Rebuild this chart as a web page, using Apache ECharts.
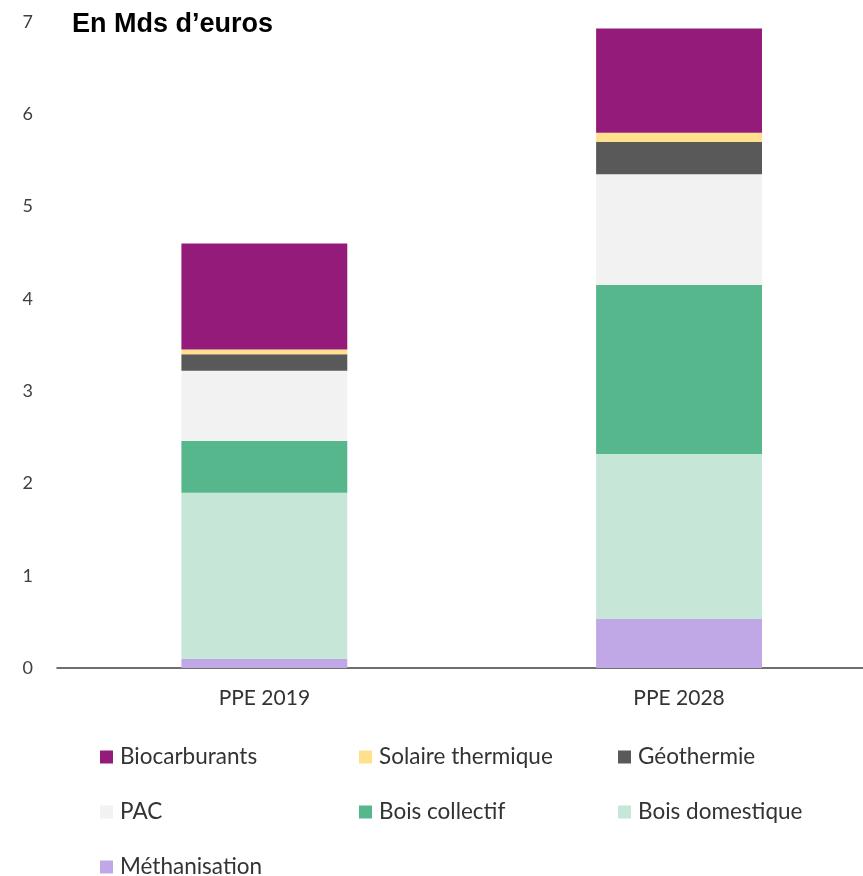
<!DOCTYPE html>
<html>
<head>
<meta charset="utf-8">
<script src="https://cdn.jsdelivr.net/npm/echarts@6/dist/echarts.min.js"></script>
<style>
html,body{margin:0;padding:0;background:#fff;overflow:hidden;width:863px;height:876px;}
#chart{width:887px;height:876px;}
</style>
</head>
<body>
<div id="chart"></div>
<script>
const categories = ['PPE 2019', 'PPE 2028'];
const methanisation = [0.10, 0.53];
const boisDomestique = [1.80, 1.79];
const boisCollectif = [0.56, 1.83];
const pac = [0.76, 1.20];
const geothermie = [0.18, 0.35];
const solaireThermique = [0.05, 0.10];
const biocarburants = [1.15, 1.13];
const yTicks = [0, 1, 2, 3, 4, 5, 6, 7];

const seriesDefs = [
  ['Méthanisation', methanisation, '#C0A7E6'],
  ['Bois domestique', boisDomestique, '#C6E6D8'],
  ['Bois collectif', boisCollectif, '#56B68C'],
  ['PAC', pac, '#F2F2F2'],
  ['Géothermie', geothermie, '#595959'],
  ['Solaire thermique', solaireThermique, '#FFE08C'],
  ['Biocarburants', biocarburants, '#951B7B']
];

const legendLayout = [
  ['Biocarburants', 100, 756.5],
  ['Solaire thermique', 359, 756.5],
  ['Géothermie', 618, 756.5],
  ['PAC', 100, 811.5],
  ['Bois collectif', 359, 811.5],
  ['Bois domestique', 618, 811.5],
  ['Méthanisation', 100, 866.5]
];

const font = 'Lato, "Noto Sans", sans-serif';

const chart = echarts.init(document.getElementById('chart'), null, {renderer: 'canvas'});
chart.setOption({
  animation: false,
  backgroundColor: '#fff',
  title: {
    text: 'En Mds d’euros',
    left: 72, top: 11, padding: 0,
    textStyle: {fontFamily: '"Liberation Sans", Arial, sans-serif', fontWeight: 'bold', fontSize: 27, color: '#000'}
  },
  grid: {left: 57, right: 0.6, top: 22, bottom: 208, containLabel: false},
  xAxis: {
    type: 'category',
    data: categories,
    axisLine: {lineStyle: {color: '#404040', width: 1.5}},
    axisTick: {show: false},
    axisLabel: {fontFamily: font, fontSize: 21, color: '#333', margin: 20}
  },
  yAxis: {
    type: 'value',
    min: yTicks[0], max: yTicks[yTicks.length - 1], interval: 1,
    axisLine: {show: false},
    axisTick: {show: false},
    splitLine: {show: false},
    axisLabel: {fontFamily: font, fontSize: 18, color: '#404040', margin: 24}
  },
  legend: legendLayout.map(([name, x, cy]) => ({
    data: [name],
    left: x, top: cy - 11, padding: 0,
    itemWidth: 13, itemHeight: 13, itemGap: 0,
    icon: 'rect',
    selectedMode: false,
    textStyle: {fontFamily: font, fontSize: 22.5, color: '#333', lineHeight: 22, padding: [0, 0, 0, 2]}
  })),
  series: seriesDefs.map(([name, data, color]) => ({
    name, type: 'bar', stack: 'total', data,
    barWidth: '40%',
    itemStyle: {color},
    emphasis: {disabled: true}
  }))
});
</script>
</body>
</html>
